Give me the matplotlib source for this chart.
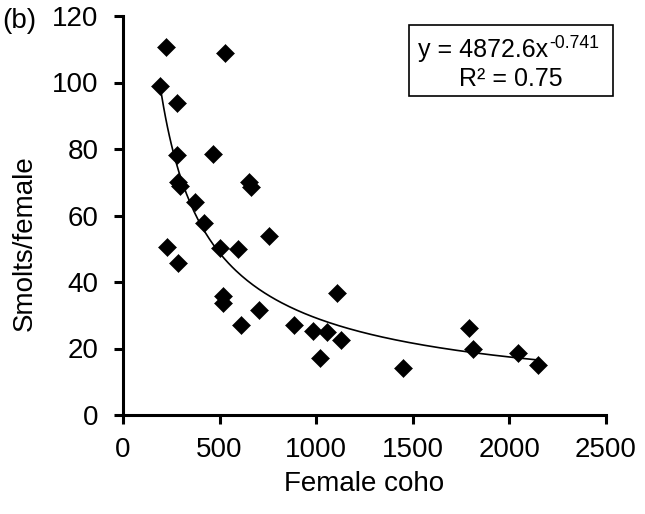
import matplotlib
matplotlib.use('Agg')
import matplotlib.pyplot as plt
import matplotlib.ticker as ticker
import numpy as np

plt.rcParams['font.family'] = ['Liberation Sans', 'DejaVu Sans']

# values
female_coho = [223, 528, 191, 281, 281, 467, 285, 295, 650, 665, 373, 417,
               229, 286, 502, 597, 756, 519, 517, 703, 612, 1109, 885, 985,
               1054, 1128, 1020, 1450, 1791, 1810, 2043, 2150]
smolts_per_female = [110.6, 108.8, 98.9, 93.7, 78.2, 78.4, 70.0, 69.0, 70.0,
                     68.5, 64.2, 57.7, 50.4, 45.8, 50.3, 49.9, 53.9, 35.8,
                     33.8, 31.6, 27.1, 36.8, 27.0, 25.3, 24.9, 22.6, 17.0,
                     14.2, 26.1, 19.8, 18.6, 15.0]

# power trendline as printed on the chart
TREND_A = 4872.6
TREND_B = -0.741
TREND_R2 = 0.75

x_ticks = [0, 500, 1000, 1500, 2000, 2500]
y_ticks = [0, 20, 40, 60, 80, 100, 120]

TICK_SIZE = 20
EQ_SIZE = 18
SUP_SIZE = 12.7


def main() -> None:
    fig = plt.figure(figsize=(6.45, 5.14), dpi=100)
    ax = fig.add_axes([123 / 645, 1 - 415 / 514, 483 / 645, 399 / 514])

    trend_x = np.linspace(min(female_coho), max(female_coho), 200)
    trend_y = TREND_A * trend_x ** TREND_B
    ax.plot(trend_x, trend_y, color='black', linewidth=1.2, zorder=2)

    ax.plot(female_coho, smolts_per_female, linestyle='none', marker='D',
            markersize=9.6, markerfacecolor='black', markeredgecolor='black',
            markeredgewidth=0.4, zorder=3)

    ax.set_xlim(0, 2500)
    ax.set_ylim(0, 120)
    ax.xaxis.set_major_locator(ticker.FixedLocator(x_ticks))
    ax.yaxis.set_major_locator(ticker.FixedLocator(y_ticks))

    for side in ('top', 'right'):
        ax.spines[side].set_visible(False)
    for side in ('left', 'bottom'):
        ax.spines[side].set_linewidth(2.2)
    ax.tick_params(axis='both', direction='out', length=6.5, width=2.2,
                   labelsize=TICK_SIZE)
    ax.tick_params(axis='x', pad=9)
    ax.tick_params(axis='y', pad=11)

    ax.set_xlabel('Female coho', fontsize=TICK_SIZE, labelpad=6)
    ax.set_ylabel('Smolts/female', fontsize=TICK_SIZE)
    ax.yaxis.set_label_coords(-0.176, 0.43)

    fig.text(2 / 645, 1 - 8 / 514, '(b)', fontsize=TICK_SIZE,
             ha='left', va='top')

    # equation box
    box = plt.Rectangle((409 / 645, 1 - 96 / 514), 204 / 645, 71 / 514,
                        transform=fig.transFigure, fill=False,
                        edgecolor='black', linewidth=1.2)
    fig.add_artist(box)
    eq = fig.text(418 / 645, 1 - 57 / 514, 'y = 4872.6x', fontsize=EQ_SIZE,
                  ha='left', va='baseline')
    fig.add_artist(plt.Annotation(f'{TREND_B:.3f}', xy=(1, 1), xycoords=eq,
                                  xytext=(0.5, 2), textcoords='offset points',
                                  fontsize=SUP_SIZE, ha='left', va='top'))
    fig.text(511 / 645, 1 - 86 / 514, f'R² = {TREND_R2:.2f}', fontsize=EQ_SIZE,
             ha='center', va='baseline')

    fig.savefig('out.png', dpi=100)
    plt.close(fig)


if __name__ == '__main__':
    main()
